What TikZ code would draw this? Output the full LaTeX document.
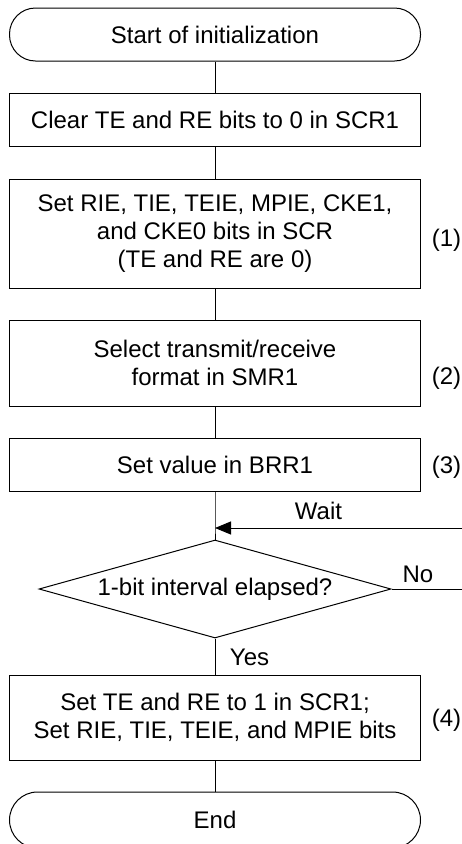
\documentclass[tikz,border=0pt]{standalone}
\usepackage{fontspec}
\setmainfont{Liberation Sans}
\usetikzlibrary{shapes.geometric,arrows.meta}

\tikzset{proc/.style={draw, line width=1pt, minimum width=411pt, inner sep=0pt, align=center},
         term/.style={proc, rounded corners=26pt},
         decis/.style={draw, line width=1pt, diamond, aspect=3.59, minimum width=352pt, minimum height=98pt, inner sep=0pt},
         etq/.style={inner sep=0pt}}

\begin{document}
\begin{tikzpicture}[x=1pt, y=-1pt, line width=1pt, font=\fontsize{24}{28.4}\selectfont]
  \useasboundingbox (0,0) rectangle (462,844);
  \node[term, minimum height=53pt] (start) at (215,34.5)  {Start of initialization};
  \node[proc, minimum height=53pt] (clr)   at (215,119.5) {Clear TE and RE bits to 0 in SCR1};
  \node[proc, minimum height=109pt] (scr)  at (215,233.5) {Set RIE, TIE, TEIE, MPIE, CKE1,\\ and CKE0 bits in SCR\\ (TE and RE are 0)};
  \node[proc, minimum height=86pt] (smr)   at (215,363)   {Select transmit/receive\\ format in SMR1};
  \node[proc, minimum height=53pt] (brr)   at (215,464.5) {Set value in BRR1};
  \node[decis] (dia)                       at (215,589)   {1-bit interval elapsed?};
  \node[proc, minimum height=85pt] (set)   at (215,717.5) {Set TE and RE to 1 in SCR1;\\ Set RIE, TIE, TEIE, and MPIE bits};
  \node[term, rounded corners=28pt, minimum height=56pt] (end) at (215,820) {End};
  \coordinate (join) at (215,528);
  \coordinate (ret)  at (462,528);
  \coordinate (noend) at (462,589);
  % connectors
  \draw (start) -- (clr);  \draw (clr) -- (scr);  \draw (scr) -- (smr);  \draw (smr) -- (brr);
  \draw (brr) -- (join) -- (dia);
  \draw[-{Triangle[length=16pt, width=13pt]}] (ret) -- (join);
  \draw (dia.east) -- (noend);
  \draw (dia) -- (set);  \draw (set) -- (end);
  % labels
  \node[etq] (wait) at (318.5,511) {Wait};
  \node[etq] (no)   at (418,574)   {No};
  \node[etq] (yes)  at (249.5,657) {Yes};
  \node[etq] (n1)   at (446.5,240) {(1)};
  \node[etq] (n2)   at (446.5,378) {(2)};
  \node[etq] (n3)   at (446.5,467) {(3)};
  \node[etq] (n4)   at (446.5,720) {(4)};
\end{tikzpicture}
\end{document}
